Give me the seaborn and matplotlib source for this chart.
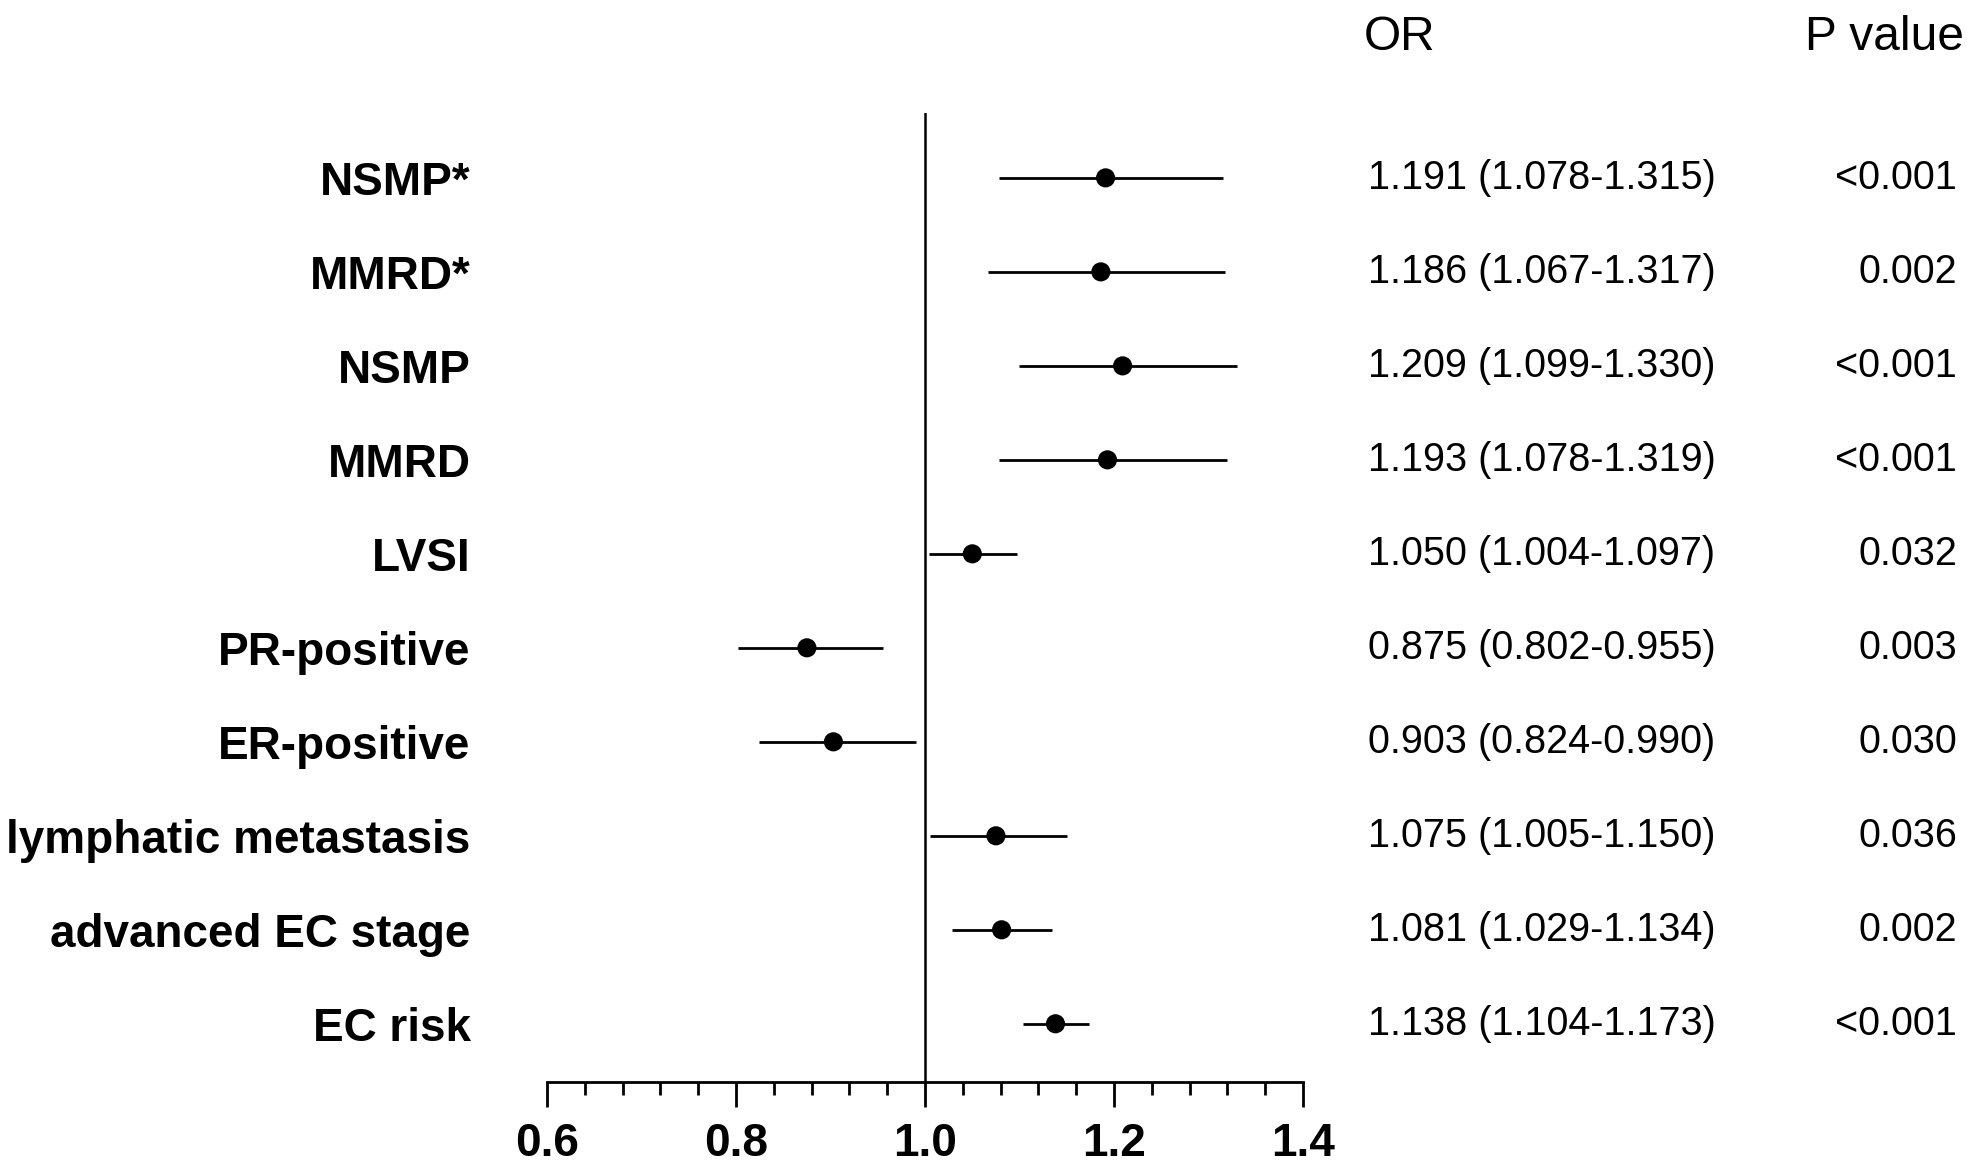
import numpy as np
import pandas as pd
import matplotlib
matplotlib.use('Agg')
import matplotlib.pyplot as plt
import matplotlib.transforms as mtransforms
from matplotlib.ticker import MultipleLocator
import seaborn as sns

# data
labels = ['NSMP*', 'MMRD*', 'NSMP', 'MMRD', 'LVSI', 'PR-positive', 'ER-positive',
          'lymphatic metastasis', 'advanced EC stage', 'EC risk']
or_vals = [1.191, 1.186, 1.209, 1.193, 1.050, 0.875, 0.903, 1.075, 1.081, 1.138]
ci_low = [1.078, 1.067, 1.099, 1.078, 1.004, 0.802, 0.824, 1.005, 1.029, 1.104]
ci_high = [1.315, 1.317, 1.330, 1.319, 1.097, 0.955, 0.990, 1.150, 1.134, 1.173]
p_vals = ['<0.001', '0.002', '<0.001', '<0.001', '0.032', '0.003', '0.030', '0.036', '0.002', '<0.001']
x_ticks = [0.6, 0.8, 1.0, 1.2, 1.4]

df = pd.DataFrame({'label': labels, 'OR': or_vals, 'low': ci_low, 'high': ci_high, 'p': p_vals})
df['row'] = np.arange(len(df))

sns.set_style('ticks')
plt.rcParams['font.family'] = ['Liberation Sans', 'DejaVu Sans']
plt.rcParams['text.color'] = 'black'
plt.rcParams['xtick.color'] = 'black'
plt.rcParams['ytick.color'] = 'black'
plt.rcParams['axes.edgecolor'] = 'black'

fig = plt.figure(figsize=(19.72, 11.64), dpi=100)
ax = fig.add_axes([0.2774, 0.0704, 0.3834, 0.8325])

# confidence intervals and point estimates
ax.hlines(df['row'], df['low'], df['high'], color='black', lw=2.0, zorder=2)
sns.scatterplot(data=df, x='OR', y='row', ax=ax, color='black', s=190,
                edgecolor='none', zorder=3, legend=False)
ax.axvline(1.0, color='black', lw=1.8, zorder=1)

ax.set_xlim(0.6, 1.4)
ax.set_ylim(9.62, -0.69)
ax.set_xticks(x_ticks)
ax.set_xticklabels([f'{t:.1f}' for t in x_ticks], fontsize=33, fontweight='bold')
ax.xaxis.set_minor_locator(MultipleLocator(0.04))
ax.tick_params(axis='x', which='major', length=18, width=2.0, pad=11)
ax.tick_params(axis='x', which='minor', length=9.4, width=2.0)

ax.set_yticks(df['row'])
ax.set_yticklabels(df['label'], fontsize=33, fontweight='bold')
ax.tick_params(axis='y', length=0, pad=55)

for side in ['top', 'right', 'left']:
    ax.spines[side].set_visible(False)
ax.spines['bottom'].set_linewidth(2.0)
ax.set_xlabel('')
ax.set_ylabel('')

# right-hand text columns
trans = mtransforms.blended_transform_factory(fig.transFigure, ax.transData)
for _, r in df.iterrows():
    ax.text(0.6937, r['row'], f"{r['OR']:.3f} ({r['low']:.3f}-{r['high']:.3f})",
            transform=trans, fontsize=28.5, ha='left', va='center', clip_on=False)
    ax.text(0.9924, r['row'], r['p'], transform=trans, fontsize=28.5,
            ha='right', va='center', clip_on=False)

fig.text(0.6917, 0.957, 'OR', fontsize=34.5, ha='left', va='baseline')
fig.text(0.996, 0.957, 'P value', fontsize=34.5, ha='right', va='baseline')

fig.savefig('out.png', dpi=100, facecolor='white')
